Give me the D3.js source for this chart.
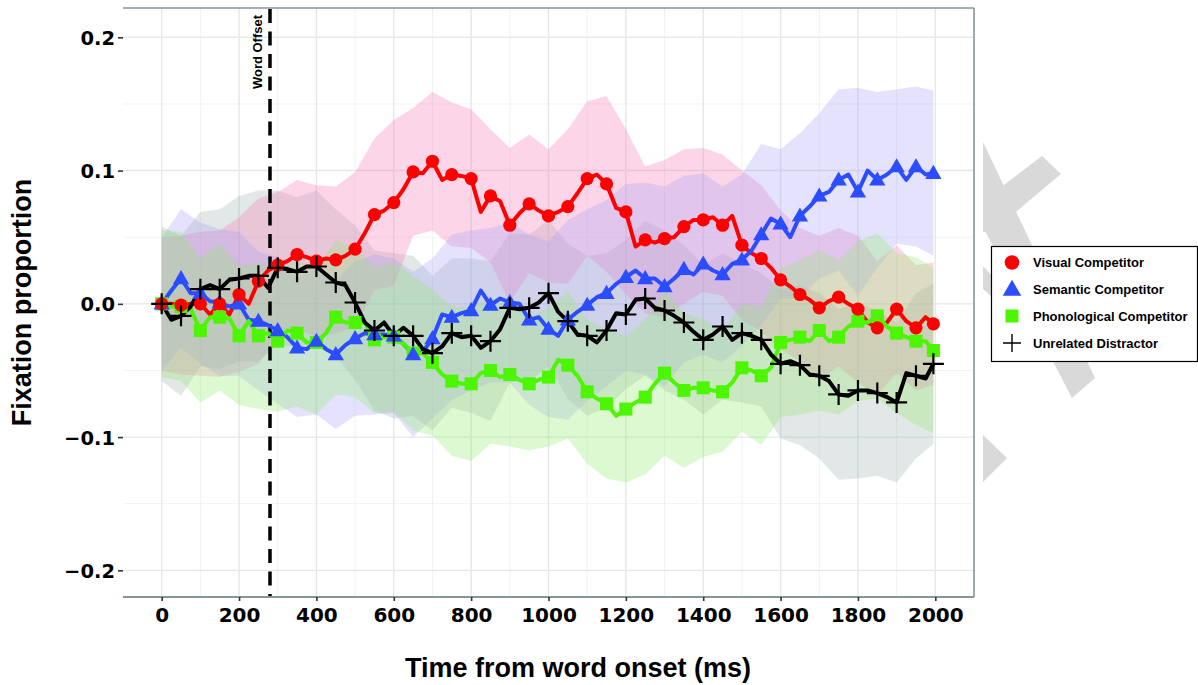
<!DOCTYPE html>
<html>
<head>
<meta charset="utf-8">
<script src="https://cdnjs.cloudflare.com/ajax/libs/d3/7.8.5/d3.min.js"></script>
<style>
  body { margin: 0; background: #fff; }
  svg { display: block; }
</style>
</head>
<body>
<div id="chart"></div>
<script>
// time points (ms from word onset)
var times = [0,25,50,75,100,125,150,175,200,225,250,275,300,325,350,375,400,425,450,475,
  500,525,550,575,600,625,650,675,700,725,750,775,800,825,850,875,900,925,950,975,
  1000,1025,1050,1075,1100,1125,1150,1175,1200,1225,1250,1275,1300,1325,1350,1375,1400,1425,1450,1475,
  1500,1525,1550,1575,1600,1625,1650,1675,1700,1725,1750,1775,1800,1825,1850,1875,1900,1925,1950,1975,1995];

// mean fixation proportion per condition
var visual = [0.000,0.000,-0.001,0.000,0.000,-0.008,0.000,-0.008,0.007,0.000,
  0.017,0.025,0.029,0.032,0.037,0.035,0.032,0.034,0.033,0.036,
  0.041,0.053,0.067,0.070,0.076,0.086,0.099,0.098,0.107,0.093,
  0.097,0.096,0.094,0.069,0.081,0.077,0.059,0.068,0.075,0.070,
  0.066,0.069,0.073,0.083,0.094,0.097,0.090,0.072,0.069,0.043,
  0.048,0.046,0.049,0.050,0.058,0.063,0.063,0.065,0.059,0.066,
  0.044,0.038,0.034,0.027,0.018,0.013,0.007,0.003,-0.003,0.002,
  0.005,0.000,-0.004,-0.014,-0.018,-0.014,-0.004,-0.013,-0.018,-0.010,
  -0.015];
var semantic = [0.000,0.010,0.019,0.008,0.008,0.002,0.001,-0.002,0.000,-0.012,
  -0.013,-0.016,-0.020,-0.025,-0.033,-0.034,-0.028,-0.034,-0.038,-0.031,
  -0.026,-0.022,-0.023,-0.023,-0.024,-0.030,-0.038,-0.036,-0.026,-0.008,
  -0.010,-0.007,-0.005,0.010,-0.001,0.004,0.001,0.000,-0.012,-0.010,
  -0.019,-0.024,-0.012,-0.006,-0.001,0.005,0.008,0.015,0.020,0.025,
  0.019,0.019,0.013,0.019,0.026,0.022,0.030,0.025,0.022,0.030,
  0.033,0.040,0.052,0.064,0.060,0.050,0.066,0.073,0.081,0.084,
  0.093,0.097,0.084,0.100,0.093,0.097,0.103,0.093,0.103,0.097,
  0.098];
var phonological = [0.000,-0.002,-0.002,-0.004,-0.020,-0.010,-0.010,-0.011,-0.024,-0.013,
  -0.024,-0.022,-0.028,-0.020,-0.022,-0.029,-0.029,-0.022,-0.010,-0.014,
  -0.014,-0.014,-0.027,-0.025,-0.025,-0.030,-0.037,-0.037,-0.044,-0.053,
  -0.058,-0.060,-0.060,-0.052,-0.050,-0.055,-0.053,-0.057,-0.060,-0.057,
  -0.055,-0.042,-0.046,-0.054,-0.066,-0.071,-0.075,-0.084,-0.079,-0.074,
  -0.070,-0.060,-0.052,-0.059,-0.065,-0.063,-0.063,-0.065,-0.066,-0.059,
  -0.048,-0.050,-0.054,-0.048,-0.029,-0.027,-0.025,-0.028,-0.020,-0.028,
  -0.025,-0.017,-0.013,-0.014,-0.009,-0.017,-0.022,-0.025,-0.028,-0.028,
  -0.035];
var unrelated = [0.000,-0.012,-0.009,-0.002,0.011,0.014,0.011,0.018,0.019,0.021,
  0.021,0.012,0.027,0.026,0.024,0.028,0.028,0.022,0.016,0.014,
  0.001,-0.014,-0.020,-0.014,-0.024,-0.018,-0.024,-0.034,-0.037,-0.032,
  -0.022,-0.025,-0.024,-0.033,-0.028,-0.019,-0.003,-0.004,-0.003,0.001,
  0.008,-0.006,-0.013,-0.023,-0.024,-0.029,-0.020,-0.007,-0.008,0.003,
  0.004,-0.003,-0.005,-0.009,-0.014,-0.021,-0.027,-0.023,-0.017,-0.027,
  -0.022,-0.024,-0.027,-0.038,-0.045,-0.043,-0.046,-0.053,-0.054,-0.058,
  -0.068,-0.069,-0.065,-0.065,-0.067,-0.070,-0.074,-0.052,-0.054,-0.056,
  -0.045];

// half width of the confidence band, every 50 ms (every second time point)
var visualBand = [0.050,0.052,0.054,0.055,0.058,0.062,0.055,0.056,0.057,0.055,
  0.058,0.057,0.062,0.048,0.052,0.054,0.052,0.050,0.058,0.052,
  0.050,0.058,0.058,0.066,0.062,0.055,0.059,0.058,0.054,0.053,
  0.056,0.055,0.052,0.050,0.054,0.052,0.055,0.050,0.048,0.047,0.046];
var semanticBand = [0.050,0.052,0.053,0.055,0.054,0.052,0.055,0.052,0.055,0.056,
  0.058,0.060,0.058,0.062,0.060,0.062,0.060,0.058,0.060,0.064,
  0.066,0.075,0.072,0.070,0.070,0.072,0.075,0.070,0.068,0.066,
  0.064,0.068,0.056,0.062,0.062,0.068,0.078,0.066,0.058,0.060,0.062];
var phonologicalBand = [0.055,0.056,0.054,0.055,0.052,0.055,0.053,0.055,0.054,0.058,
  0.056,0.055,0.056,0.058,0.055,0.056,0.058,0.055,0.054,0.050,
  0.052,0.055,0.054,0.056,0.055,0.058,0.062,0.058,0.052,0.045,
  0.048,0.052,0.056,0.058,0.060,0.058,0.060,0.062,0.060,0.063,0.062];
var unrelatedBand = [0.058,0.060,0.058,0.060,0.062,0.064,0.058,0.056,0.057,0.055,
  0.058,0.060,0.062,0.060,0.058,0.056,0.058,0.060,0.056,0.055,
  0.055,0.058,0.060,0.058,0.056,0.058,0.060,0.058,0.056,0.055,
  0.052,0.050,0.056,0.060,0.062,0.064,0.066,0.062,0.060,0.062,0.060];

var seriesNames = ["Visual Competitor", "Semantic Competitor", "Phonological Competitor", "Unrelated Distractor"];
var xTicks = [0, 200, 400, 600, 800, 1000, 1200, 1400, 1600, 1800, 2000];
var xMinor = [100, 300, 500, 700, 900, 1100, 1300, 1500, 1700, 1900];
var yTicks = [-0.2, -0.1, 0.0, 0.1, 0.2];
var yMinor = [-0.15, -0.05, 0.05, 0.15];
var wordOffset = 280;

var svgWidth = 1198, svgHeight = 685;
var margin = { top: 8, right: 224, bottom: 88, left: 123 };
var width = svgWidth - margin.left - margin.right;
var height = svgHeight - margin.top - margin.bottom;

var svg = d3.select("#chart").append("svg")
  .attr("width", svgWidth)
  .attr("height", svgHeight);

var chartGroup = svg.append("g")
  .attr("transform", `translate(${margin.left}, ${margin.top})`);

var xScale = d3.scaleLinear().domain([-100, 2100]).range([0, width]);
var yScale = d3.scaleLinear().domain([-0.22, 0.222]).range([height, 0]);

// grid
chartGroup.selectAll(".minorX").data(xMinor).enter().append("line")
  .attr("x1", d => xScale(d)).attr("x2", d => xScale(d))
  .attr("y1", 0).attr("y2", height)
  .attr("stroke", "#f0f3f3").attr("stroke-width", 1);
chartGroup.selectAll(".minorY").data(yMinor).enter().append("line")
  .attr("x1", 0).attr("x2", width)
  .attr("y1", d => yScale(d)).attr("y2", d => yScale(d))
  .attr("stroke", "#f0f3f3").attr("stroke-width", 1);
chartGroup.selectAll(".majorX").data(xTicks).enter().append("line")
  .attr("x1", d => xScale(d)).attr("x2", d => xScale(d))
  .attr("y1", 0).attr("y2", height)
  .attr("stroke", "#e2e9e9").attr("stroke-width", 1.4);
chartGroup.selectAll(".majorY").data(yTicks).enter().append("line")
  .attr("x1", 0).attr("x2", width)
  .attr("y1", d => yScale(d)).attr("y2", d => yScale(d))
  .attr("stroke", "#e2e9e9").attr("stroke-width", 1.4);

var series = [
  { name: seriesNames[0], values: visual, band: visualBand, color: "#ff0000", fill: "#f578b4", symbol: "circle" },
  { name: seriesNames[1], values: semantic, band: semanticBand, color: "#2b4dff", fill: "#a69ff4", symbol: "triangle" },
  { name: seriesNames[2], values: phonological, band: phonologicalBand, color: "#4cf500", fill: "#8eea6a", symbol: "square" },
  { name: seriesNames[3], values: unrelated, band: unrelatedBand, color: "#000000", fill: "#9fb0b0", symbol: "plus" }
];

// confidence ribbons
var area = d3.area()
  .x(d => xScale(d.t))
  .y0(d => yScale(d.lo))
  .y1(d => yScale(d.hi));

[3, 0, 1, 2].forEach(function(k) {
  var s = series[k];
  var pts = s.band.map(function(w, i) {
    var j = Math.min(i * 2, times.length - 1);
    return { t: times[j], lo: s.values[j] - w, hi: s.values[j] + w };
  });
  chartGroup.append("path")
    .datum(pts)
    .attr("d", area)
    .attr("fill", s.fill)
    .attr("fill-opacity", 0.3);
});

// word offset marker
chartGroup.append("line")
  .attr("x1", xScale(wordOffset)).attr("x2", xScale(wordOffset))
  .attr("y1", 1).attr("y2", height)
  .attr("stroke", "#000").attr("stroke-width", 3.5)
  .attr("stroke-dasharray", "14,8.5");

chartGroup.append("text")
  .attr("transform", `translate(${xScale(wordOffset) - 8}, 44) rotate(-90)`)
  .attr("text-anchor", "middle")
  .attr("font-family", "Liberation Sans, Arial, sans-serif")
  .attr("font-weight", "bold")
  .attr("font-size", "13px")
  .text("Word Offset");

// lines
var line = d3.line()
  .x((d, i) => xScale(times[i]))
  .y(d => yScale(d));

series.forEach(function(s) {
  chartGroup.append("path")
    .datum(s.values)
    .attr("d", line)
    .attr("fill", "none")
    .attr("stroke", s.color)
    .attr("stroke-width", 4)
    .attr("stroke-linejoin", "round");
});

// markers every 50 ms
function drawMarker(g, s, x, y, big) {
  if (s.symbol === "circle") {
    g.append("circle").attr("cx", x).attr("cy", y).attr("r", big ? 7.3 : 6.6).attr("fill", s.color);
  } else if (s.symbol === "triangle") {
    g.append("path")
      .attr("transform", `translate(${x},${y + 1})`)
      .attr("d", d3.symbol(d3.symbolTriangle, big ? 150 : 115)())
      .attr("fill", s.color);
  } else if (s.symbol === "square") {
    var a = big ? 13 : 13;
    g.append("rect").attr("x", x - a / 2).attr("y", y - a / 2)
      .attr("width", a).attr("height", a).attr("fill", s.color);
  } else {
    var h = big ? 9 : 10.5;
    g.append("path")
      .attr("d", `M${x - h},${y}H${x + h}M${x},${y - h}V${y + h}`)
      .attr("stroke", s.color).attr("stroke-width", big ? 1.4 : 2.2);
  }
}

var markerGroup = chartGroup.append("g");
[2, 1, 0, 3].forEach(function(k) {
  var s = series[k];
  s.values.forEach(function(v, i) {
    if (i % 2 === 0 && times[i] < 2000) {
      drawMarker(markerGroup, s, xScale(times[i]), yScale(v), false);
    }
  });
});

// panel border
chartGroup.append("line").attr("x1", 0).attr("x2", width).attr("y1", 0).attr("y2", 0)
  .attr("stroke", "#86959a").attr("stroke-width", 1.6);
chartGroup.append("line").attr("x1", 0).attr("x2", width).attr("y1", height).attr("y2", height)
  .attr("stroke", "#86959a").attr("stroke-width", 1.8);
chartGroup.append("line").attr("x1", width).attr("x2", width).attr("y1", 0).attr("y2", height)
  .attr("stroke", "#86959a").attr("stroke-width", 1.6);

// axes
var xAxis = d3.axisBottom(xScale).tickValues(xTicks).tickSize(4).tickPadding(7).tickFormat(d3.format("d"));
var yAxis = d3.axisLeft(yScale).tickValues(yTicks).tickSize(5).tickPadding(3)
  .tickFormat(d => d3.format(".1f")(d).replace("-", "\u2212"));

var xg = chartGroup.append("g").attr("transform", `translate(0, ${height})`).call(xAxis);
var yg = chartGroup.append("g").call(yAxis);
[xg, yg].forEach(function(g) {
  g.select(".domain").remove();
  g.selectAll(".tick line").attr("stroke", "#333").attr("stroke-width", 1.6);
  g.selectAll(".tick text")
    .attr("fill", "#000")
    .attr("font-family", "DejaVu Sans, sans-serif")
    .attr("font-weight", "bold");
});
xg.selectAll(".tick text").attr("font-size", "20px");
yg.selectAll(".tick text").attr("font-size", "19.5px").attr("dy", "0.36em");

// axis titles
svg.append("text")
  .attr("transform", `translate(31, ${margin.top + height / 2}) rotate(-90)`)
  .attr("text-anchor", "middle")
  .attr("font-family", "Liberation Sans, Arial, sans-serif")
  .attr("font-weight", "bold")
  .attr("font-size", "27px")
  .text("Fixation proportion");

svg.append("text")
  .attr("x", 578)
  .attr("y", 677)
  .attr("text-anchor", "middle")
  .attr("font-family", "Liberation Sans, Arial, sans-serif")
  .attr("font-weight", "bold")
  .attr("font-size", "27px")
  .text("Time from word onset (ms)");

// faint logo shapes at the right
var logo = [
  [[983,142],[1095,378],[1072,398],[983,227]],
  [[983,201],[1042,156],[1061,174],[992,232],[983,232]],
  [[983,266],[995,279],[995,300],[983,289]],
  [[983,435],[1007,458],[983,482]]
];
svg.selectAll(".logo").data(logo).enter().append("polygon")
  .attr("points", d => d.map(p => p.join(",")).join(" "))
  .attr("fill", "#d9d9d9");

// legend
var legend = svg.append("g");
legend.append("rect")
  .attr("x", 991.5).attr("y", 246.5)
  .attr("width", 206).attr("height", 115)
  .attr("fill", "#fff").attr("stroke", "#000").attr("stroke-width", 1.2);

var legendY = [262.5, 289.5, 316, 343];
series.forEach(function(s, i) {
  drawMarker(legend, s, 1012, legendY[i], true);
  legend.append("text")
    .attr("x", 1033).attr("y", legendY[i])
    .attr("dy", "0.36em")
    .attr("font-family", "Liberation Sans, Arial, sans-serif")
    .attr("font-weight", "bold")
    .attr("font-size", "13px")
    .text(s.name);
});
</script>
</body>
</html>
